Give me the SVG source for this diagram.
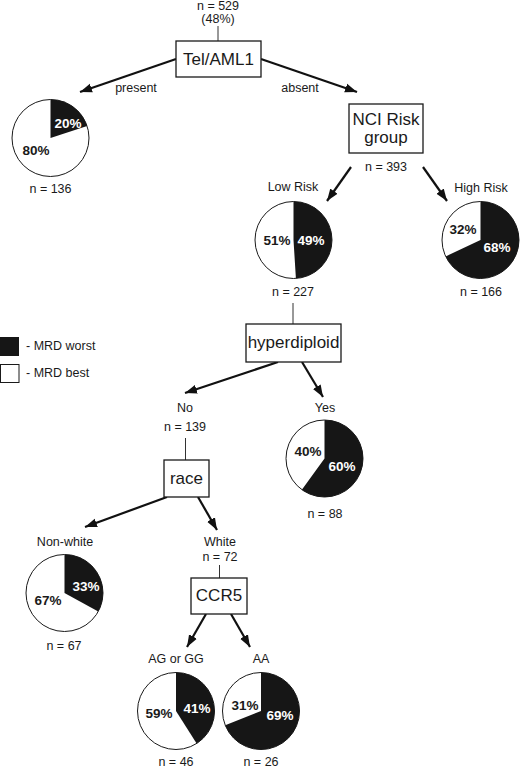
<svg xmlns="http://www.w3.org/2000/svg" width="520" height="768" viewBox="0 0 520 768">
<style>
text{font-family:"Liberation Sans",Arial,sans-serif;fill:#1a1a1a}
.lbl{font-size:12.5px;text-anchor:middle}
.box{fill:#fff;stroke:#1a1a1a;stroke-width:1.3}
.bt{font-size:17px;text-anchor:middle}
.pw{fill:#fff;stroke:#1a1a1a;stroke-width:1}
.pb{fill:#161616}
.pct{font-size:13.5px;font-weight:bold;text-anchor:middle}
.pct.w{fill:#fff}
.arr{stroke:#111;stroke-width:2.2;fill:none;marker-end:url(#ah)}
.ln{stroke:#333;stroke-width:1;fill:none}
</style>
<defs>
<marker id="ah" viewBox="0 0 12 10" refX="12" refY="5" markerWidth="12" markerHeight="10" markerUnits="userSpaceOnUse" orient="auto">
<path d="M0,0.5 L12,5 L0,9.5 z" fill="#111"/>
</marker>
</defs>
<g id="connectors">
<line class="ln" x1="218" y1="26" x2="218" y2="41"/>
<line class="arr" x1="176" y1="59" x2="80" y2="92"/>
<line class="arr" x1="261" y1="59" x2="357" y2="92"/>
<line class="arr" x1="351" y1="167" x2="327" y2="201"/>
<line class="arr" x1="423" y1="167" x2="447" y2="201"/>
<line class="ln" x1="293" y1="303" x2="293" y2="324"/>
<line class="arr" x1="278" y1="362" x2="185" y2="393"/>
<line class="arr" x1="302" y1="362" x2="323" y2="397"/>
<line class="ln" x1="185.5" y1="438" x2="185.5" y2="460"/>
<line class="arr" x1="167" y1="497" x2="85" y2="527"/>
<line class="arr" x1="198" y1="497" x2="217" y2="530"/>
<line class="ln" x1="219.5" y1="565" x2="219.5" y2="578"/>
<line class="arr" x1="206" y1="614" x2="187" y2="647"/>
<line class="arr" x1="231" y1="614" x2="250" y2="647"/>
</g>
<g id="root-label">
<text class="lbl" x="218" y="10" font-size="12">n = 529</text>
<text class="lbl" x="218" y="23" font-size="12">(48%)</text>
</g>
<g id="tel-aml1">
<rect class="box" x="176" y="41" width="85" height="36"/>
<text class="bt" x="218.5" y="65">Tel/AML1</text>
</g>
<g id="edge-labels">
<text class="lbl" x="136" y="92">present</text>
<text class="lbl" x="300" y="92">absent</text>
</g>
<g id="pie-present">
<circle class="pw" cx="50.5" cy="138" r="38.5"/>
<path class="pb" d="M50.5,138 L50.5,99.5 A38.5,38.5 0 0 1 87.12,126.10 Z"/>
<text class="pct w" x="68" y="128">20%</text>
<text class="pct" x="36" y="155">80%</text>
<text class="lbl" x="50.5" y="193">n = 136</text>
</g>
<g id="nci-risk">
<rect class="box" x="349" y="104" width="74" height="49"/>
<text class="bt" x="386" y="125" font-size="15.5">NCI Risk</text>
<text class="bt" x="386" y="143" font-size="15.5">group</text>
<text class="lbl" x="386" y="171">n = 393</text>
</g>
<g id="pie-low-risk">
<text class="lbl" x="293" y="191">Low Risk</text>
<circle class="pw" cx="293.5" cy="240" r="38.5"/>
<path class="pb" d="M293.5,240 L293.5,201.5 A38.5,38.5 0 0 1 295.92,278.42 Z"/>
<text class="pct" x="277" y="245">51%</text>
<text class="pct w" x="311" y="245">49%</text>
<text class="lbl" x="293" y="296">n = 227</text>
</g>
<g id="pie-high-risk">
<text class="lbl" x="481" y="192">High Risk</text>
<circle class="pw" cx="480.5" cy="240" r="38.5"/>
<path class="pb" d="M480.5,240 L480.5,201.5 A38.5,38.5 0 1 1 445.67,256.39 Z"/>
<text class="pct" x="463" y="234">32%</text>
<text class="pct w" x="497" y="252">68%</text>
<text class="lbl" x="481" y="296">n = 166</text>
</g>
<g id="hyperdiploid">
<rect class="box" x="246" y="324" width="95" height="38"/>
<text class="bt" x="293.5" y="348">hyperdiploid</text>
</g>
<g id="legend">
<rect x="0" y="337" width="19" height="19" fill="#161616"/>
<text x="26" y="350" font-size="12.5">- MRD worst</text>
<rect x="0.5" y="364.5" width="18.5" height="18" fill="#fff" stroke="#1a1a1a" stroke-width="1"/>
<text x="26" y="377" font-size="12.5">- MRD best</text>
</g>
<g id="no-branch">
<text class="lbl" x="185" y="412">No</text>
<text class="lbl" x="185" y="431">n = 139</text>
</g>
<g id="pie-yes">
<text class="lbl" x="325" y="412">Yes</text>
<circle class="pw" cx="324.5" cy="458.5" r="38.5"/>
<path class="pb" d="M324.5,458.5 L324.5,420 A38.5,38.5 0 1 1 301.87,489.65 Z"/>
<text class="pct" x="308" y="456">40%</text>
<text class="pct w" x="342" y="471">60%</text>
<text class="lbl" x="325" y="518">n = 88</text>
</g>
<g id="race">
<rect class="box" x="164" y="460" width="45" height="37"/>
<text class="bt" x="186.5" y="484">race</text>
</g>
<g id="pie-non-white">
<text class="lbl" x="65" y="546">Non-white</text>
<circle class="pw" cx="64.5" cy="593" r="38.5"/>
<path class="pb" d="M64.5,593 L64.5,554.5 A38.5,38.5 0 0 1 98.24,611.55 Z"/>
<text class="pct w" x="86" y="591">33%</text>
<text class="pct" x="48" y="605">67%</text>
<text class="lbl" x="64" y="650">n = 67</text>
</g>
<g id="white-branch">
<text class="lbl" x="220" y="546">White</text>
<text class="lbl" x="220" y="561">n = 72</text>
</g>
<g id="ccr5">
<rect class="box" x="191" y="578" width="56" height="36"/>
<text class="bt" x="219" y="601">CCR5</text>
</g>
<g id="pie-ag-gg">
<text class="lbl" x="176" y="663">AG or GG</text>
<circle class="pw" cx="176" cy="711" r="38.5"/>
<path class="pb" d="M176,711 L176,672.5 A38.5,38.5 0 0 1 196.63,743.51 Z"/>
<text class="pct" x="159" y="718">59%</text>
<text class="pct w" x="197" y="713">41%</text>
<text class="lbl" x="176" y="766">n = 46</text>
</g>
<g id="pie-aa">
<text class="lbl" x="261" y="663">AA</text>
<circle class="pw" cx="261" cy="711" r="38.5"/>
<path class="pb" d="M261,711 L261,672.5 A38.5,38.5 0 1 1 225.20,725.17 Z"/>
<text class="pct" x="245" y="710">31%</text>
<text class="pct w" x="280" y="720">69%</text>
<text class="lbl" x="261" y="766">n = 26</text>
</g>
</svg>
